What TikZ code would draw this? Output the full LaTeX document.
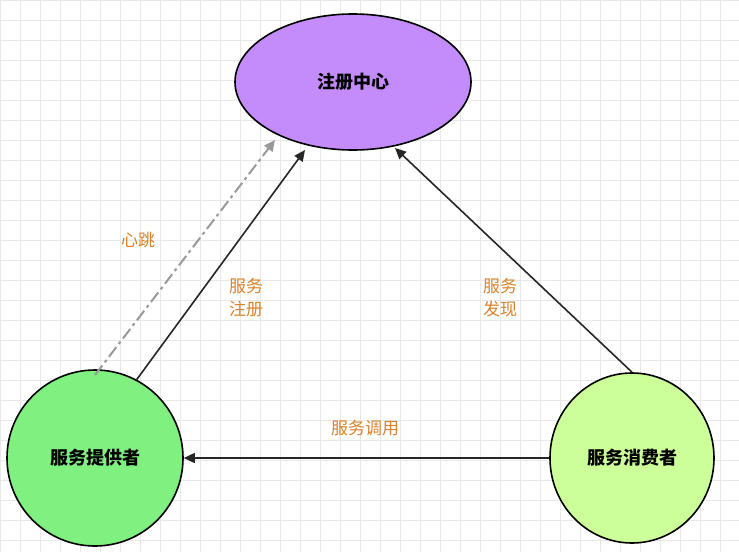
\documentclass[tikz,border=0pt]{standalone}
\usepackage{fontspec}
\newfontfamily\cjk{Noto Sans CJK SC}
\usetikzlibrary{shapes.geometric,arrows.meta}
\definecolor{lbl}{HTML}{D9822B}
\tikzset{
  nd/.style={ellipse,draw=black,line width=1.6pt,font=\cjk\bfseries\fontsize{18}{20}\selectfont,inner sep=0pt},
  conn/.style={-{Triangle[length=11pt,width=10pt]},line width=1.6pt,draw=black!85},
  lab/.style={text=lbl,font=\cjk\fontsize{17}{23}\selectfont,align=left}
}
\begin{document}
\begin{tikzpicture}[x=1pt,y=-1pt]
\useasboundingbox (0,0) rectangle (739,552);
\fill[white] (0,0) rectangle (739,552);
\foreach \i in {0,20,...,740} \draw[black!9,line width=0.6pt] (\i,0) -- (\i,552);
\foreach \j in {0,20,...,560} \draw[black!9,line width=0.6pt] (0,\j) -- (739,\j);
\node[nd,fill={rgb,255:red,196;green,140;blue,250},minimum width=236pt,minimum height=136pt] (reg) at (353,82) {注册中心};
\node[nd,fill={rgb,255:red,128;green,240;blue,128},minimum width=176pt,minimum height=176pt] (prov) at (95,458) {服务提供者};
\node[nd,fill={rgb,255:red,204;green,255;blue,153},minimum width=164pt,minimum height=170pt] (cons) at (632,458) {服务消费者};
\coordinate (hbs) at (95,375);
\coordinate (hbe) at (275,140);
\draw[conn] (prov.62) -- (305,150);
\draw[conn,draw=gray!80,dash pattern=on 12pt off 4pt on 3pt off 4pt,line width=2pt] (hbs) -- (hbe);
\draw[conn] (cons.north) -- (395,148);
\draw[conn] (cons.west) -- (prov.east);
\node[lab] (l1) at (138,240) {心跳};
\node[lab] (l2) at (246,298) {服务\\注册};
\node[lab] (l3) at (500,298) {服务\\发现};
\node[lab] (l4) at (365,428) {服务调用};
\end{tikzpicture}
\end{document}
